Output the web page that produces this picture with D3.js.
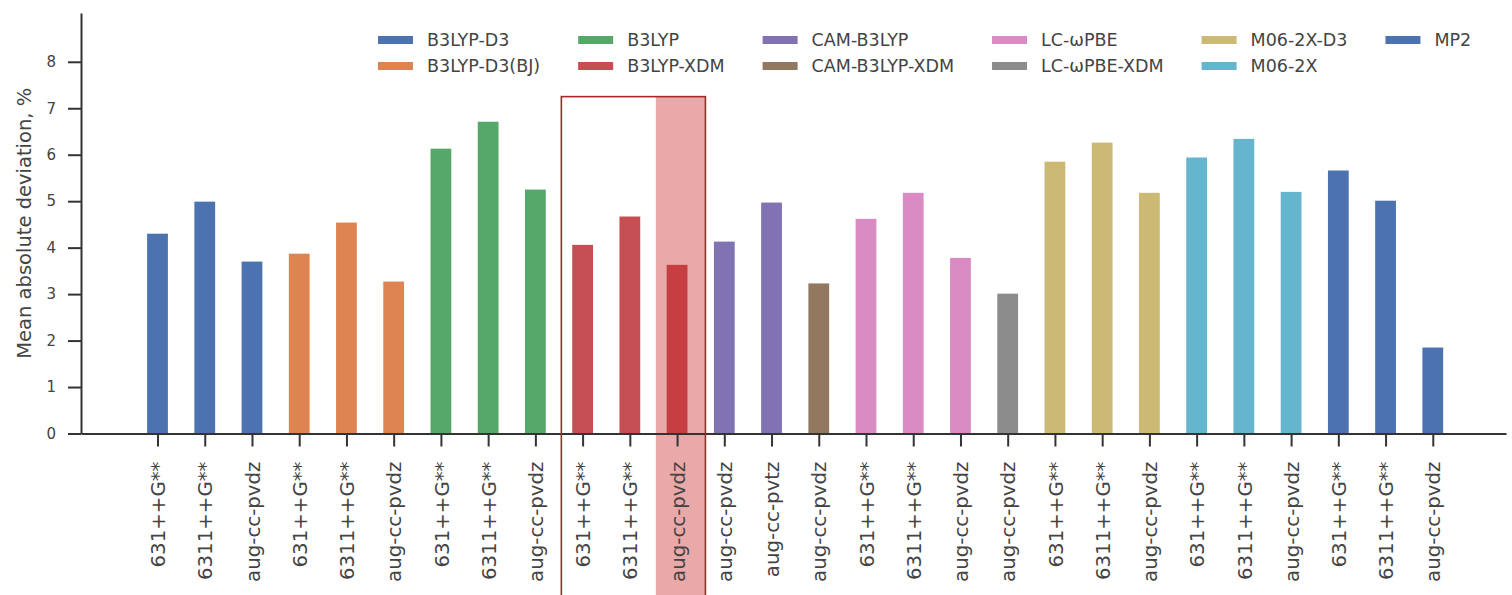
<!DOCTYPE html>
<html>
<head>
<meta charset="utf-8">
<script src="https://cdn.jsdelivr.net/npm/d3@7/dist/d3.min.js"></script>
<style>
  html, body { margin: 0; padding: 0; background: #fff; }
  svg { display: block; font-family: "DejaVu Sans", sans-serif; }
</style>
</head>
<body>
<svg id="chart" width="1512" height="595"></svg>
<script>
// Methods (legend order) and their palette colours
const methods = ["B3LYP-D3", "B3LYP-D3(BJ)", "B3LYP", "B3LYP-XDM", "CAM-B3LYP",
                 "CAM-B3LYP-XDM", "LC-ωPBE", "LC-ωPBE-XDM", "M06-2X-D3", "M06-2X", "MP2"];
const methodColors = ["#4C72B0", "#DD8452", "#55A868", "#C44E52", "#8172B3",
                      "#937860", "#DA8BC3", "#8C8C8C", "#CCB974", "#64B5CD", "#4C72B0"];

// One entry per bar: method, basis set and mean absolute deviation (%)
const barMethods = [
  "B3LYP-D3", "B3LYP-D3", "B3LYP-D3",
  "B3LYP-D3(BJ)", "B3LYP-D3(BJ)", "B3LYP-D3(BJ)",
  "B3LYP", "B3LYP", "B3LYP",
  "B3LYP-XDM", "B3LYP-XDM", "B3LYP-XDM",
  "CAM-B3LYP", "CAM-B3LYP",
  "CAM-B3LYP-XDM",
  "LC-ωPBE", "LC-ωPBE", "LC-ωPBE",
  "LC-ωPBE-XDM",
  "M06-2X-D3", "M06-2X-D3", "M06-2X-D3",
  "M06-2X", "M06-2X", "M06-2X",
  "MP2", "MP2", "MP2"
];
const basisLabels = [
  "631++G**", "6311++G**", "aug-cc-pvdz",
  "631++G**", "6311++G**", "aug-cc-pvdz",
  "631++G**", "6311++G**", "aug-cc-pvdz",
  "631++G**", "6311++G**", "aug-cc-pvdz",
  "aug-cc-pvdz", "aug-cc-pvtz",
  "aug-cc-pvdz",
  "631++G**", "6311++G**", "aug-cc-pvdz",
  "aug-cc-pvdz",
  "631++G**", "6311++G**", "aug-cc-pvdz",
  "631++G**", "6311++G**", "aug-cc-pvdz",
  "631++G**", "6311++G**", "aug-cc-pvdz"
];
const madValues = [
  4.30, 4.99, 3.70,
  3.87, 4.54, 3.27,
  6.13, 6.71, 5.25,
  4.06, 4.67, 3.63,
  4.13, 4.97,
  3.23,
  4.62, 5.18, 3.78,
  3.01,
  5.85, 6.26, 5.18,
  5.94, 6.34, 5.20,
  5.66, 5.01, 1.85
];
const yTicks = [0, 1, 2, 3, 4, 5, 6, 7, 8];

// Highlighted group (B3LYP-XDM) and the emphasised bar within it
const highlightRange = [9, 11];
const shadedBar = 11;
const highlightTop = 7.25;

const svg = d3.select("#chart");
const axisColor = "#333";
const textColor = "#444";

const x = d3.scaleLinear().domain([-1.62, 28.55]).range([81, 1506]);
const y = d3.scaleLinear().domain([0, 9.05]).range([433.5, 13]);
const barW = x(0.44) - x(0);
const colorOf = d3.scaleOrdinal().domain(methods).range(methodColors);

// Bars
svg.append("g").selectAll("rect")
  .data(madValues)
  .join("rect")
  .attr("x", (d, i) => x(i) - barW / 2)
  .attr("y", d => y(d))
  .attr("width", barW)
  .attr("height", d => y(0) - y(d))
  .attr("fill", (d, i) => colorOf(barMethods[i]));

// Shaded emphasis over the last bar of the group
svg.append("rect")
  .attr("x", x(shadedBar - 0.45))
  .attr("y", y(highlightTop))
  .attr("width", x(shadedBar + 0.6) - x(shadedBar - 0.45))
  .attr("height", 600 - y(highlightTop))
  .attr("fill", "rgb(200,40,40)")
  .attr("fill-opacity", 0.4);

// Axes
const yAxis = d3.axisLeft(y).tickValues(yTicks).tickSize(13).tickSizeOuter(0).tickPadding(12);
const gy = svg.append("g").attr("transform", `translate(${x.range()[0]},0)`).call(yAxis);
gy.select(".domain").attr("stroke", axisColor).attr("stroke-width", 2);
gy.selectAll(".tick line").attr("stroke", axisColor).attr("stroke-width", 2);
gy.selectAll(".tick text").attr("fill", textColor).attr("font-size", 15)
  .attr("font-family", "DejaVu Sans, sans-serif");

const xAxis = d3.axisBottom(x).tickValues(d3.range(basisLabels.length))
  .tickFormat(i => basisLabels[i]).tickSize(13).tickSizeOuter(0);
const gx = svg.append("g").attr("transform", `translate(0,${y(0)})`).call(xAxis);
gx.select(".domain").attr("stroke", axisColor).attr("stroke-width", 2);
gx.selectAll(".tick line").attr("stroke", axisColor).attr("stroke-width", 2);
gx.selectAll(".tick text")
  .attr("fill", textColor).attr("font-size", 19.8).attr("font-family", "DejaVu Sans, sans-serif")
  .attr("transform", "rotate(-90)")
  .attr("text-anchor", "end")
  .attr("x", -28).attr("y", 0).attr("dy", "0.36em");

// Outline around the highlighted group
svg.append("rect")
  .attr("x", x(highlightRange[0] - 0.45))
  .attr("y", y(highlightTop))
  .attr("width", x(highlightRange[1] + 0.6) - x(highlightRange[0] - 0.45))
  .attr("height", 600 - y(highlightTop))
  .attr("fill", "none")
  .attr("stroke", "#a8262b")
  .attr("stroke-width", 1.6);

// Y axis title
svg.append("text")
  .attr("transform", `translate(24,${(y.range()[0] + y.range()[1]) / 2}) rotate(-90)`)
  .attr("text-anchor", "middle")
  .attr("dy", "0.35em")
  .attr("fill", textColor)
  .attr("font-size", 19.5)
  .text("Mean absolute deviation, %");

// Legend: 2 rows, filled column by column
const legend = svg.append("g").attr("font-size", 17.5).attr("fill", textColor);
const rowY = [40, 66];
const nCols = Math.ceil(methods.length / 2);
let colX = 378;
for (let c = 0; c < nCols; c++) {
  let maxW = 0;
  for (let r = 0; r < 2; r++) {
    const k = c * 2 + r;
    if (k >= methods.length) break;
    legend.append("rect")
      .attr("x", colX).attr("y", rowY[r] - 4)
      .attr("width", 35).attr("height", 8)
      .attr("fill", methodColors[k]);
    const t = legend.append("text")
      .attr("x", colX + 49).attr("y", rowY[r]).attr("dy", "0.35em")
      .text(methods[k]);
    maxW = Math.max(maxW, t.node().getComputedTextLength());
  }
  colX += 49 + maxW + 38;
}
</script>
</body>
</html>
